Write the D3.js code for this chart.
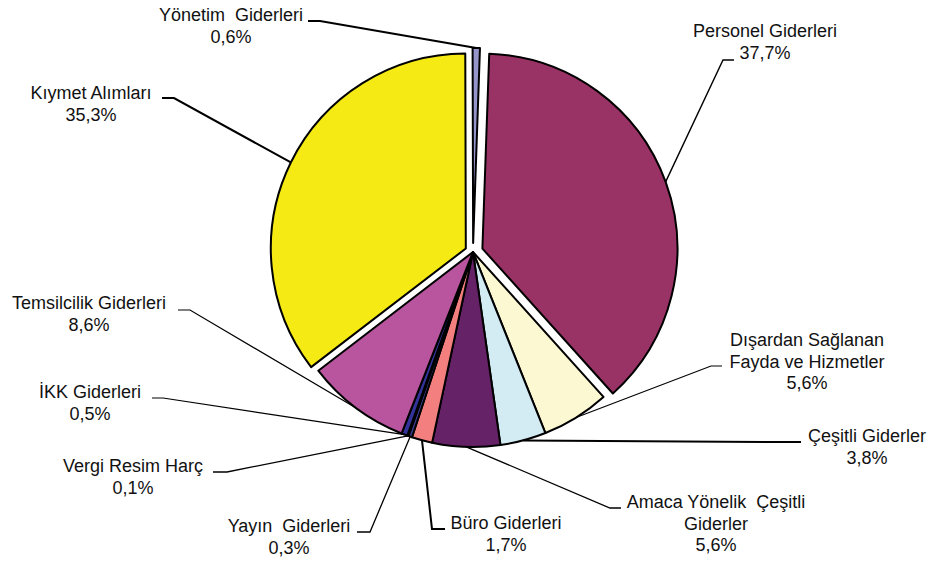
<!DOCTYPE html>
<html lang="tr">
<head>
<meta charset="UTF-8">
<title>Gider Dağılımı</title>
<script src="https://d3js.org/d3.v7.min.js"></script>
<style>
  body { margin: 0; background: #fff; }
  text { font-family: "Liberation Sans", Arial, sans-serif; font-size: 18px; fill: #111; white-space: pre; }
</style>
</head>
<body>
<script>
// data
var categories = ["Personel Giderleri", "Dışardan Sağlanan Fayda ve Hizmetler", "Çeşitli Giderler",
  "Amaca Yönelik Çeşitli Giderler", "Büro Giderleri", "Yayın Giderleri", "Vergi Resim Harç",
  "İKK Giderleri", "Temsilcilik Giderleri", "Kıymet Alımları", "Yönetim Giderleri"];
var values = [37.7, 5.6, 3.8, 5.6, 1.7, 0.3, 0.1, 0.5, 8.6, 35.3, 0.6];
// label text as shown (line breaks)
var labelLines = [
  ["Personel Giderleri"],
  ["Dışardan Sağlanan", "Fayda ve Hizmetler"],
  ["Çeşitli Giderler"],
  ["Amaca Yönelik  Çeşitli", "Giderler"],
  ["Büro Giderleri"],
  ["Yayın  Giderleri"],
  ["Vergi Resim Harç"],
  ["İKK Giderleri"],
  ["Temsilcilik Giderleri"],
  ["Kıymet Alımları"],
  ["Yönetim  Giderleri"]
];

var colors = ["#993366", "#FCF8D2", "#D3ECF4", "#662266", "#F47F7F", "#3B3B8F",
              "#333399", "#333399", "#B8559E", "#F5EA14", "#9595CB"];
var explode = [10, 0, 0, 0, 0, 0, 0, 0, 0, 8, 9];

// label placement: text centre x, first baseline y, leader stub from s0 to s1 at height sy
var labelPos = [
  {x: 765, y: 37,  s0: 734, s1: 723, sy: 60,  w: 1.4},
  {x: 807, y: 346, s0: 722, s1: 711, sy: 366, w: 1.2},
  {x: 867, y: 442, s0: 801, s1: 780, sy: 442, w: 2},
  {x: 716, y: 508, s0: 621, s1: 610, sy: 508, w: 1.3},
  {x: 506, y: 529, s0: 445, s1: 432, sy: 529, w: 2},
  {x: 289, y: 532, s0: 357, s1: 370, sy: 532, w: 1.3},
  {x: 133, y: 472, s0: 213, s1: 227, sy: 472, w: 1.3},
  {x: 90,  y: 398, s0: 152, s1: 163, sy: 398, w: 1.2},
  {x: 89,  y: 309, s0: 178, s1: 190, sy: 310, w: 1.2},
  {x: 91,  y: 99,  s0: 162, s1: 174, sy: 98,  w: 2},
  {x: 231, y: 21,  s0: 308, s1: 320, sy: 21,  w: 2}
];

var width = 937, height = 567;
var cx = 473, cy = 252, R = 195;
var lineH = 21.5;

var svg = d3.select("body").append("svg")
    .attr("width", width)
    .attr("height", height);

var start = 0.035;
var pie = d3.pie().sort(null).value(function(d) { return d; })
    .startAngle(start).endAngle(start + 2 * Math.PI);
var arcs = pie(values);
var arc = d3.arc().innerRadius(0).outerRadius(R);

function mid(d) { return (d.startAngle + d.endAngle) / 2; }

// slices
svg.append("g")
  .selectAll("path")
  .data(arcs)
  .join("path")
    .attr("d", arc)
    .attr("transform", function(d) {
      var m = mid(d), e = explode[d.index];
      return "translate(" + (cx + e * Math.sin(m)) + "," + (cy - e * Math.cos(m)) + ")";
    })
    .attr("fill", function(d) { return colors[d.index]; })
    .attr("stroke", "#000")
    .attr("stroke-width", 2)
    .attr("stroke-linejoin", "round");

// leader lines
svg.append("g")
  .selectAll("polyline")
  .data(arcs)
  .join("polyline")
    .attr("points", function(d) {
      var p = labelPos[d.index], m = mid(d), r = R + explode[d.index];
      var ex = cx + r * Math.sin(m), ey = cy - r * Math.cos(m);
      return [[p.s0, p.sy], [p.s1, p.sy], [ex, ey]].join(" ");
    })
    .attr("fill", "none")
    .attr("stroke", "#000")
    .attr("stroke-width", function(d) { return labelPos[d.index].w; });

// labels
var fmt = function(v) { return v.toFixed(1).replace(".", ",") + "%"; };
var labels = svg.append("g")
  .selectAll("text")
  .data(arcs)
  .join("text")
    .attr("text-anchor", "middle")
    .attr("x", function(d) { return labelPos[d.index].x; })
    .attr("y", function(d) { return labelPos[d.index].y; });

labels.selectAll("tspan")
  .data(function(d) { return labelLines[d.index].concat([fmt(d.value)]); })
  .join("tspan")
    .attr("x", function() { return labelPos[d3.select(this.parentNode).datum().index].x; })
    .attr("dy", function(d, i) { return i === 0 ? 0 : lineH; })
    .text(function(d) { return d; });
</script>
</body>
</html>
